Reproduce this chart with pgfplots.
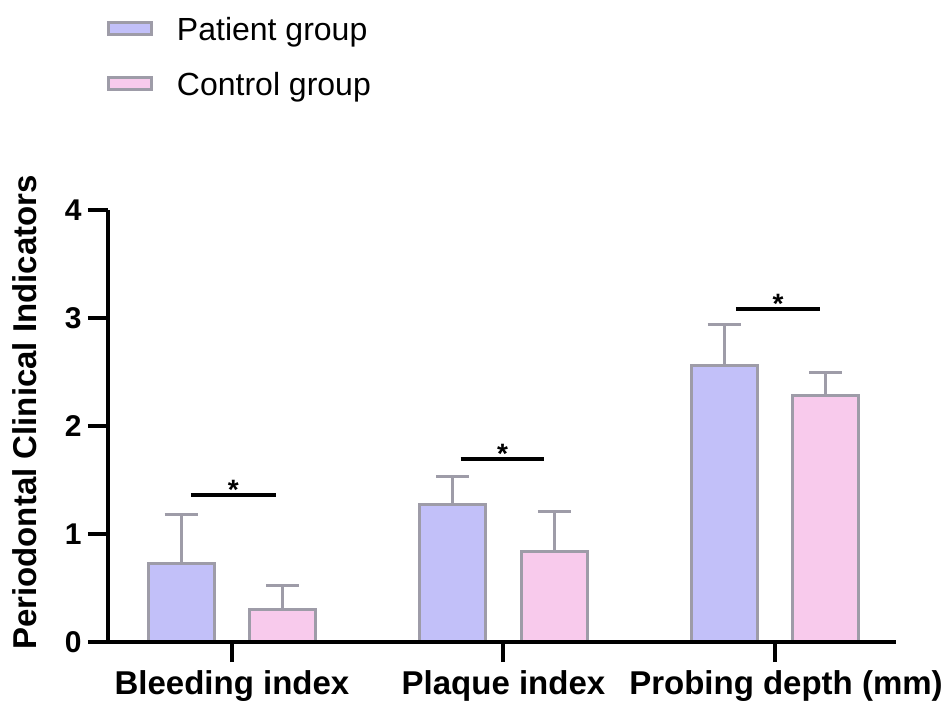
\documentclass[border=0pt]{standalone}
\usepackage{fontspec}
\setmainfont{Liberation Sans}
\usepackage{pgfplots}
\pgfplotsset{compat=1.18}
\definecolor{patfill}{RGB}{194,192,249}
\definecolor{confill}{RGB}{248,202,236}
\definecolor{edge}{RGB}{158,156,168}
\begin{document}
\begin{tikzpicture}
\begin{axis}[
  scale only axis, width=394pt, height=216pt,
  xmin=-0.4567, xmax=2.4457, ymin=0, ymax=4,
  axis lines=left, axis line style={-, line width=2pt, black},
  axis on top,
  xtick={0,1,2}, xticklabels={Bleeding index, Plaque index, \hspace*{11pt}Probing depth (mm)},
  ytick={0,1,2,3,4},
  tick align=outside, major tick length=10pt,
  tick style={line width=2pt, black},
  /pgf/number format/assume math mode=true,
  xticklabel style={font=\bfseries\fontsize{16.5}{16.5}\selectfont, inner sep=0pt, yshift=-4pt},
  yticklabel style={font=\bfseries\fontsize{15}{15}\selectfont, inner sep=0pt, xshift=-3pt},
  ylabel={Periodontal Clinical Indicators},
  every axis y label/.style={at={(rel axis cs:0,0.5)}, xshift=-35.5pt, yshift=6.75pt, rotate=90, anchor=base, font=\bfseries\fontsize{16.5}{16.5}\selectfont},
  legend style={at={(0,1)}, anchor=north west, xshift=-0.5pt, yshift=96.5pt, draw=none, fill=none, inner sep=0pt, outer sep=0pt, row sep=16pt, column sep=12pt, font=\fontsize{16}{16}\selectfont, nodes={inner sep=0pt, text height=11.5pt, text depth=0pt}},
  legend cell align=left,
  legend image code/.code={\draw[#1, line width=1.5pt] (0.75pt,-3pt) rectangle (22.25pt,3pt);},
]
\addplot[ybar, bar width=33pt, bar shift=0pt, fill=patfill, draw=edge, line width=1.5pt,
  error bars/.cd, y dir=plus, y explicit,
  error bar style={line width=1.5pt, draw=edge},
  error mark options={rotate=90, mark size=8.25pt, line width=1.5pt, draw=edge}]
  coordinates {(-0.1878,0.73) +- (0,0.455) (0.8122,1.27) +- (0,0.26) (1.8122,2.56) +- (0,0.38)};
\addlegendentry{Patient group}
\addplot[ybar, bar width=33pt, bar shift=0pt, fill=confill, draw=edge, line width=1.5pt,
  error bars/.cd, y dir=plus, y explicit,
  error bar style={line width=1.5pt, draw=edge},
  error mark options={rotate=90, mark size=8.25pt, line width=1.5pt, draw=edge}]
  coordinates {(0.1878,0.305) +- (0,0.215) (1.1878,0.84) +- (0,0.37) (2.1878,2.28) +- (0,0.22)};
\addlegendentry{Control group}
\addplot[black, line width=2pt, sharp plot, no marks, forget plot] coordinates {(-0.151,1.361) (0.162,1.361)};
\addplot[black, line width=2pt, sharp plot, no marks, forget plot] coordinates {(0.842,1.694) (1.151,1.694)};
\addplot[black, line width=2pt, sharp plot, no marks, forget plot] coordinates {(1.856,3.083) (2.166,3.083)};
\node[font=\bfseries\fontsize{14}{14}\selectfont, anchor=base, yshift=-2pt] at (axis cs:0.005,1.361) {*};
\node[font=\bfseries\fontsize{14}{14}\selectfont, anchor=base, yshift=-2pt] at (axis cs:0.997,1.694) {*};
\node[font=\bfseries\fontsize{14}{14}\selectfont, anchor=base, yshift=-2pt] at (axis cs:2.011,3.083) {*};
\coordinate (O) at (rel axis cs:0,0);
\end{axis}
\pgfresetboundingbox
\path[use as bounding box] ([shift={(-54pt,-30pt)}]O) rectangle ([shift={(417.5pt,321pt)}]O);
\end{tikzpicture}
\end{document}
